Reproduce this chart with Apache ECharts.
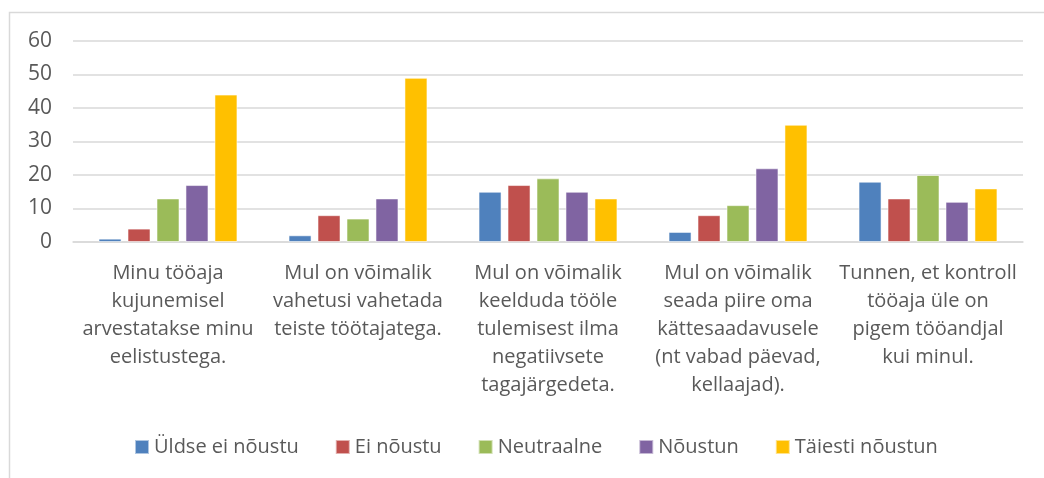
<!DOCTYPE html>
<html>
<head>
<meta charset="utf-8">
<script src="https://cdn.jsdelivr.net/npm/echarts@6/dist/echarts.min.js"></script>
<style>
  html, body { margin: 0; padding: 0; background: #fff; }
  #chart { width: 1044px; height: 478px; }
</style>
</head>
<body>
<div id="chart"></div>
<script>
  const categories = [
    'Minu tööaja\nkujunemisel\narvestatakse minu\neelistustega.',
    'Mul on võimalik\nvahetusi vahetada\nteiste töötajatega.',
    'Mul on võimalik\nkeelduda tööle\ntulemisest ilma\nnegatiivsete\ntagajärgedeta.',
    'Mul on võimalik\nseada piire oma\nkättesaadavusele\n(nt vabad päevad,\nkellaajad).',
    'Tunnen, et kontroll\ntööaja üle on\npigem tööandjal\nkui minul.'
  ]
  const seriesNames = ['Üldse ei nõustu', 'Ei nõustu', 'Neutraalne', 'Nõustun', 'Täiesti nõustun']
  const yldseEi = [1, 2, 15, 3, 18]
  const eiNoustu = [4, 8, 17, 8, 13]
  const neutraalne = [13, 7, 19, 11, 20]
  const noustun = [17, 13, 15, 22, 12]
  const taiesti = [44, 49, 13, 35, 16]
  const yTicks = [0, 10, 20, 30, 40, 50, 60]

  const colors = ['#4f81bd', '#c0504d', '#9bbb59', '#8064a2', '#ffc000']
  const values = [yldseEi, eiNoustu, neutraalne, noustun, taiesti]
  const font = '"Open Sans", "Noto Sans", sans-serif'

  const myChart = echarts.init(document.getElementById('chart'))
  myChart.setOption({
    animation: false,
    color: colors,
    textStyle: { fontFamily: font },
    graphic: [{
      type: 'rect',
      shape: { x: 9.5, y: 12.5, width: 1100, height: 500 },
      style: { fill: 'none', stroke: '#d9d9d9', lineWidth: 1.5 },
      silent: true
    }],
    grid: { left: 73, right: 21, top: 41, bottom: 236 },
    legend: {
      data: seriesNames,
      left: 129,
      top: 432,
      itemWidth: 14,
      itemHeight: 14,
      itemGap: 36,
      icon: 'rect',
      textStyle: { color: '#595959', fontSize: 20, fontFamily: font }
    },
    xAxis: {
      type: 'category',
      data: categories,
      axisLine: { lineStyle: { color: '#d9d9d9', width: 1.5 } },
      axisTick: { show: false },
      axisLabel: {
        interval: 0,
        color: '#595959',
        fontSize: 20,
        lineHeight: 28,
        margin: 17,
        align: 'center'
      }
    },
    yAxis: {
      type: 'value',
      min: yTicks[0],
      max: yTicks[yTicks.length - 1],
      interval: 10,
      axisLine: { show: false },
      axisTick: { show: false },
      splitLine: { lineStyle: { color: '#d9d9d9', width: 1.5 } },
      axisLabel: { color: '#595959', fontSize: 21, margin: 21 }
    },
    series: seriesNames.map((name, i) => ({
      name: name,
      type: 'bar',
      data: values[i],
      barWidth: 23,
      barGap: '26%',
      itemStyle: { borderColor: 'rgba(255,255,255,0.55)', borderWidth: 1 }
    }))
  })
</script>
</body>
</html>
